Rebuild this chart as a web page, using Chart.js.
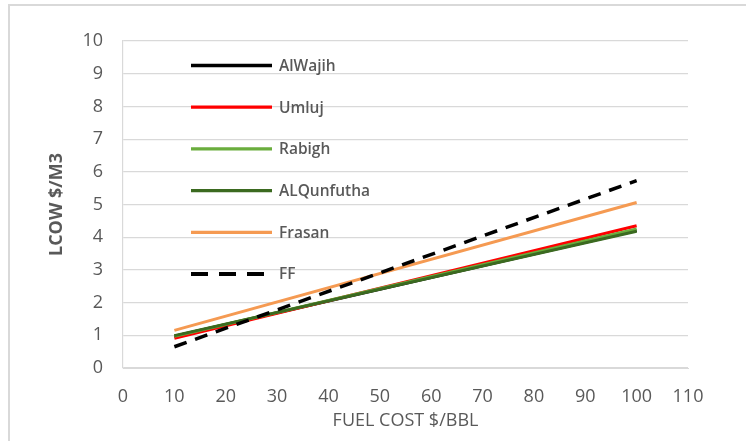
<!DOCTYPE html>
<html>
<head>
<meta charset="utf-8">
<script src="https://cdn.jsdelivr.net/npm/chart.js@4.4.0/dist/chart.umd.min.js"></script>
<style>
  html, body { margin: 0; padding: 0; background: #fff; overflow: hidden; }
  #wrap { position: relative; width: 746px; height: 441px; }
  #frame { position: absolute; left: 8px; top: 4px; width: 800px; height: 500px; border: 2px solid #d9d9d9; box-sizing: border-box; }
  canvas { position: absolute; left: 0; top: 0; }
</style>
</head>
<body>
<div id="wrap">
  <div id="frame"></div>
  <canvas id="c" width="746" height="441"></canvas>
</div>
<script>
// Data
const fuelCost   = [10, 100];
const alWajih    = [0.97, 4.20];
const umluj      = [0.91, 4.35];
const rabigh     = [0.97, 4.25];
const alQunfutha = [0.99, 4.18];
const frasan     = [1.15, 5.06];
const ff         = [0.65, 5.73];

const seriesNames  = ['AlWajih', 'Umluj', 'Rabigh', 'ALQunfutha', 'Frasan', 'FF'];
const seriesValues = [alWajih, umluj, rabigh, alQunfutha, frasan, ff];
const seriesColors = ['#000000', '#ff0000', '#6aad3d', '#3b6a20', '#f59a52', '#000000'];

const xTitle = 'FUEL COST $/BBL';
const yTitle = 'LCOW $/M3';

const datasets = seriesNames.map((name, i) => ({
  label: name,
  data: fuelCost.map((x, j) => ({ x: x, y: seriesValues[i][j] })),
  borderColor: seriesColors[i],
  backgroundColor: seriesColors[i],
  borderWidth: name === 'FF' ? 3.5 : 3,
  borderDash: name === 'FF' ? [13, 9] : [],
  pointRadius: 0,
  tension: 0,
  order: seriesNames.length - i
}));

const insideLegend = {
  id: 'insideLegend',
  afterDraw(chart) {
    const ctx = chart.ctx;
    const a = chart.chartArea;
    ctx.save();
    chart.data.datasets.forEach((ds, i) => {
      const y = a.top + 24.5 + i * 41.7;
      const x0 = a.left + 68, x1 = a.left + 149;
      ctx.beginPath();
      ctx.strokeStyle = ds.borderColor;
      ctx.lineWidth = ds.borderWidth + 0.3;
      ctx.setLineDash(ds.borderDash && ds.borderDash.length ? [17, 11] : []);
      ctx.lineCap = 'butt';
      ctx.moveTo(x0, y);
      ctx.lineTo(x1, y);
      ctx.stroke();
      ctx.setLineDash([]);
      ctx.fillStyle = '#595959';
      ctx.font = '600 15.5px "Open Sans"';
      ctx.textBaseline = 'middle';
      ctx.textAlign = 'left';
      ctx.fillText(ds.label, a.left + 156, y + 1);
    });
    ctx.restore();
  }
};

new Chart(document.getElementById('c'), {
  type: 'line',
  data: { datasets: datasets },
  options: {
    responsive: false,
    animation: false,
    devicePixelRatio: 1,
    layout: { padding: { left: 42, top: 41, right: 58, bottom: 9 } },
    plugins: { legend: { display: false }, tooltip: { enabled: false } },
    scales: {
      x: {
        type: 'linear',
        min: 0, max: 110,
        ticks: { stepSize: 10, padding: 18, color: '#595959', font: { family: 'Open Sans', size: 18 } },
        grid: { display: false, drawTicks: false },
        border: { display: true, color: '#d9d9d9', width: 1 },
        title: { display: true, text: xTitle, color: '#595959', font: { family: 'Open Sans', size: 18 }, padding: { top: 0, bottom: 0 } },
        afterFit(scale) { scale.height = 64; }
      },
      y: {
        min: 0, max: 10,
        ticks: { stepSize: 1, padding: 20, color: '#595959', font: { family: 'Open Sans', size: 18 } },
        grid: { color: '#d9d9d9', lineWidth: 1.2, drawTicks: false },
        border: { display: true, color: '#d9d9d9', width: 1.2 },
        title: { display: true, text: yTitle, color: '#595959', font: { family: 'Open Sans', size: 18, weight: 'bold' }, padding: { top: 4, bottom: 4 } },
        afterFit(scale) { scale.width = 81; }
      }
    }
  },
  plugins: [insideLegend]
});
</script>
</body>
</html>
